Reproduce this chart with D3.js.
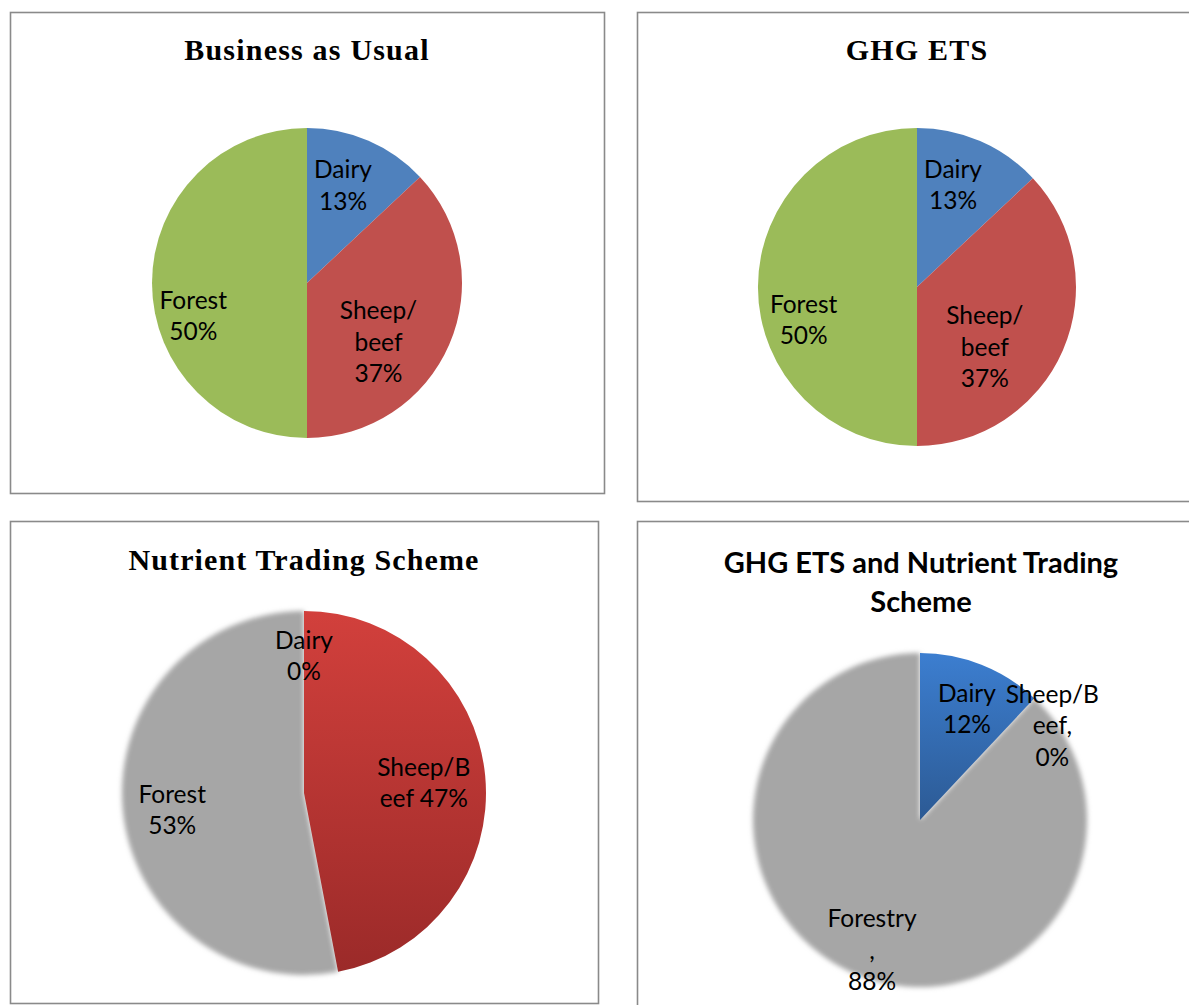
<!DOCTYPE html>
<html>
<head>
<meta charset="utf-8">
<script src="https://cdn.jsdelivr.net/npm/d3@7"></script>
<style>
  body { margin: 0; background: #fff; }
  svg { display: block; }
</style>
</head>
<body>
<div id="container"></div>
<script>
// data
let bauCategories = ["Dairy", "Sheep/beef", "Forest"];
let bauValues = [13, 37, 50];
let bauLabels = [["Dairy", "{p}"], ["Sheep/", "beef", "{p}"], ["Forest", "{p}"]];

let ghgCategories = ["Dairy", "Sheep/beef", "Forest"];
let ghgValues = [13, 37, 50];
let ghgLabels = [["Dairy", "{p}"], ["Sheep/", "beef", "{p}"], ["Forest", "{p}"]];

let ntsCategories = ["Dairy", "Sheep/Beef", "Forest"];
let ntsValues = [0, 47, 53];
let ntsLabels = [["Dairy", "{p}"], ["Sheep/B", "eef {p}"], ["Forest", "{p}"]];

let comboCategories = ["Dairy", "Sheep/Beef", "Forestry"];
let comboValues = [12, 0, 88];
let comboLabels = [["Dairy", "{p}"], ["Sheep/B", "eef,", "{p}"], ["Forestry", ",", "{p}"]];

let chartTitles = ["Business as Usual", "GHG ETS", "Nutrient Trading Scheme", "GHG ETS and Nutrient Trading Scheme"];

let w = 1189;
let h = 1005;

let svg = d3.select("#container")
  .append("svg")
  .attr("width", w)
  .attr("height", h);

let defs = svg.append("defs");

let redGrad = defs.append("linearGradient")
  .attr("id", "redGrad")
  .attr("x1", 0).attr("y1", 0).attr("x2", 0).attr("y2", 1);
redGrad.append("stop").attr("offset", "0%").attr("stop-color", "#d2403c");
redGrad.append("stop").attr("offset", "100%").attr("stop-color", "#9b2a29");

let blueGrad = defs.append("linearGradient")
  .attr("id", "blueGrad")
  .attr("x1", 0).attr("y1", 0).attr("x2", 0).attr("y2", 1);
blueGrad.append("stop").attr("offset", "0%").attr("stop-color", "#3c7ed0");
blueGrad.append("stop").attr("offset", "100%").attr("stop-color", "#2c5a94");

let soft = defs.append("filter")
  .attr("id", "soft")
  .attr("x", "-10%").attr("y", "-10%").attr("width", "120%").attr("height", "120%");
soft.append("feGaussianBlur").attr("stdDeviation", 2.5);

// layout of the four panels
let serif = "'Liberation Serif', serif";
let panels = [
  {
    vals: bauValues, labels: bauLabels, title: [chartTitles[0]],
    box: [10.5, 12.5, 594, 481], cx: 307, cy: 283, r: 155,
    titleFont: serif, titleSize: 30, spacing: 1.2, titleX: 307, titleY: [60],
    fills: ["#4f81bd", "#c0504d", "#9bbb59"], softIdx: [],
    nudge: [[-4, -5], [-21, 19], [-13, 33]]
  },
  {
    vals: ghgValues, labels: ghgLabels, title: [chartTitles[1]],
    box: [637.5, 12.5, 600, 489], cx: 917, cy: 287, r: 159,
    titleFont: serif, titleSize: 30, spacing: 1.2, titleX: 917, titleY: [60],
    fills: ["#4f81bd", "#c0504d", "#9bbb59"], softIdx: [],
    nudge: [[-5, -7], [-27, 19], [-10, 33]]
  },
  {
    vals: ntsValues, labels: ntsLabels, title: [chartTitles[2]],
    box: [10.5, 521.5, 588, 482], cx: 304, cy: 793, r: 182,
    titleFont: serif, titleSize: 30, spacing: 1.1, titleX: 304, titleY: [570],
    fills: ["#4f81bd", "url(#redGrad)", "#a6a6a6"], softIdx: [2],
    nudge: [[0, -19], [2, 1], [-14, 6]]
  },
  {
    vals: comboValues, labels: comboLabels,
    title: ["GHG ETS and Nutrient Trading", "Scheme"],
    box: [637.5, 521.5, 600, 500], cx: 920, cy: 820, r: 167,
    titleFont: "Lato, sans-serif", titleSize: 29, spacing: 0, titleX: 921, titleY: [573, 612],
    fills: ["url(#blueGrad)", "#c0504d", "#a6a6a6"], softIdx: [2],
    nudge: [[7, -10], [58, -15], [-8, 29]]
  }
];

let pie = d3.pie().sort(null).value(d => d);

panels.forEach(function(p) {
  let g = svg.append("g");

  g.append("rect")
    .attr("x", p.box[0])
    .attr("y", p.box[1])
    .attr("width", p.box[2])
    .attr("height", p.box[3])
    .attr("fill", "white")
    .attr("stroke", "#8a8a8a")
    .attr("stroke-width", 1.6);

  p.title.forEach(function(t, i) {
    g.append("text")
      .text(t)
      .attr("x", p.titleX)
      .attr("y", p.titleY[i])
      .attr("text-anchor", "middle")
      .attr("font-family", p.titleFont)
      .attr("font-weight", "bold")
      .attr("font-size", p.titleSize)
      .attr("letter-spacing", p.spacing)
      .attr("fill", "black");
  });

  let arcs = pie(p.vals);
  let arc = d3.arc().innerRadius(0).outerRadius(p.r);
  let labelArc = d3.arc().innerRadius(p.r * 0.65).outerRadius(p.r * 0.65);

  let pieG = g.append("g").attr("transform", "translate(" + p.cx + "," + p.cy + ")");

  // soft-edged slices first, crisp ones on top
  let order = arcs.map((a, i) => i).sort((a, b) => (p.softIdx.includes(b) ? 1 : 0) - (p.softIdx.includes(a) ? 1 : 0));
  order.forEach(function(i) {
    let a = arcs[i];
    if (a.endAngle - a.startAngle <= 0) return;
    pieG.append("path")
      .attr("d", arc(a))
      .attr("fill", p.fills[i])
      .attr("filter", p.softIdx.includes(i) ? "url(#soft)" : null);
  });

  arcs.forEach(function(a, i) {
    let c = labelArc.centroid(a);
    let lines = p.labels[i].map(s => s.replace("{p}", Math.round(p.vals[i]) + "%"));
    let lh = 31.5;
    let x = c[0] + p.nudge[i][0];
    let y = c[1] + p.nudge[i][1] - (lines.length - 1) * lh / 2;
    let txt = pieG.append("text")
      .attr("text-anchor", "middle")
      .attr("font-family", "Lato, sans-serif")
      .attr("font-size", 24.5)
      .attr("fill", "black");
    lines.forEach(function(l, j) {
      txt.append("tspan")
        .text(l)
        .attr("x", x)
        .attr("y", y + j * lh)
        .attr("dy", "0.35em");
    });
  });
});
</script>
</body>
</html>
